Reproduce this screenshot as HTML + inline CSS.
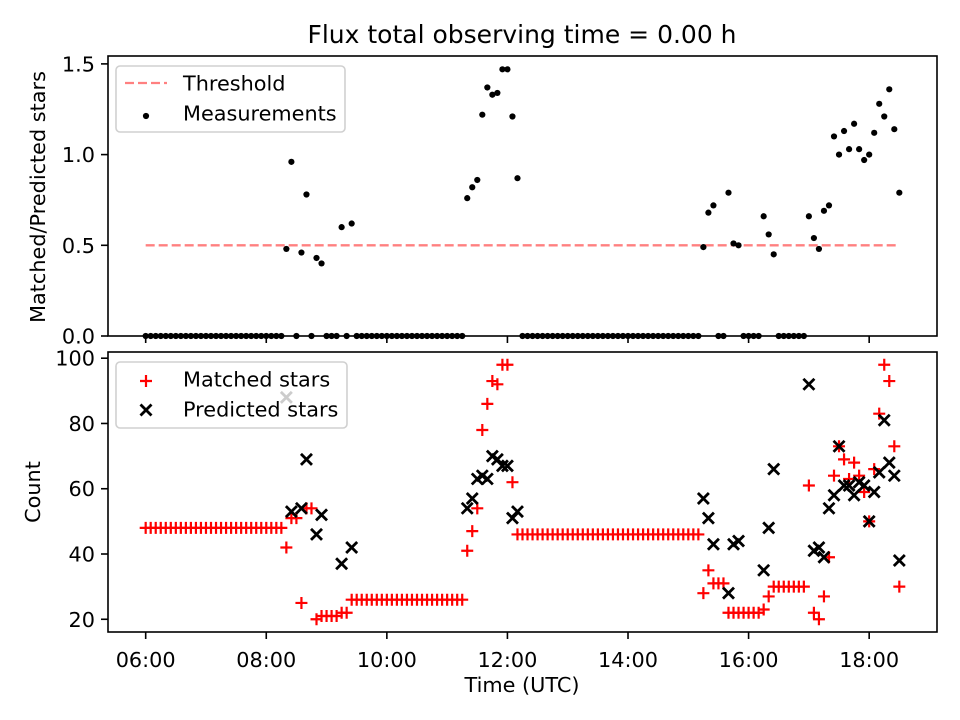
<!DOCTYPE html>
<html>
<head>
<meta charset="utf-8">
<style>
html,body{margin:0;padding:0;background:#fff;}
svg{display:block;font-family:"DejaVu Sans","Liberation Sans",sans-serif;}
</style>
</head>
<body>
<svg id="chart" width="960" height="720" viewBox="0 0 960 720" xmlns="http://www.w3.org/2000/svg">
  <rect x="0" y="0" width="960" height="720" fill="#fff"/>
  <text x="522" y="43" font-size="25" text-anchor="middle" fill="#000">Flux total observing time = 0.00 h</text>
  <g id="topPanel"></g>
  <g id="botPanel"></g>
  <text transform="translate(45,197) rotate(-90)" font-size="20.8" text-anchor="middle" fill="#000">Matched/Predicted stars</text>
  <text transform="translate(40,492) rotate(-90)" font-size="20.8" text-anchor="middle" fill="#000">Count</text>
  <text x="522" y="692" font-size="20.8" text-anchor="middle" fill="#000">Time (UTC)</text>
</svg>
<script>
// minutes after 06:00 UTC
const times = [0,5,10,15,20,25,30,35,40,45,50,55,60,65,70,75,80,85,90,95,100,105,110,115,120,125,130,135,140,145,150,155,160,165,170,175,180,185,190,195,200,205,210,215,220,225,230,235,240,245,250,255,260,265,270,275,280,285,290,295,300,305,310,315,320,325,330,335,340,345,350,355,360,365,370,375,380,385,390,395,400,405,410,415,420,425,430,435,440,445,450,455,460,465,470,475,480,485,490,495,500,505,510,515,520,525,530,535,540,545,550,555,560,565,570,575,580,585,590,595,600,605,610,615,620,625,630,635,640,645,650,655,660,665,670,675,680,685,690,695,700,705,710,715,720,725,730,735,740,745,750];
const matched = [48,48,48,48,48,48,48,48,48,48,48,48,48,48,48,48,48,48,48,48,48,48,48,48,48,48,48,48,
 42,51,51,25,54,54,20,21,21,21,21,22,22,
 26,26,26,26,26,26,26,26,26,26,26,26,26,26,26,26,26,26,26,26,26,26,26,
 41,47,54,78,86,93,92,98,98,62,
 46,46,46,46,46,46,46,46,46,46,46,46,46,46,46,46,46,46,46,46,46,46,46,46,46,46,46,46,46,46,46,46,46,46,46,46,46,
 28,35,31,31,31,
 22,22,22,22,22,22,22,
 23,27,
 30,30,30,30,30,30,30,
 61,22,20,27,39,64,73,69,63,68,64,59,50,66,83,98,93,73,30];
const N = null;
const predicted = [N,N,N,N,N,N,N,N,N,N,N,N,N,N,N,N,N,N,N,N,N,N,N,N,N,N,N,N,
 88,53,N,54,69,N,46,52,N,N,N,37,N,
 42,N,N,N,N,N,N,N,N,N,N,N,N,N,N,N,N,N,N,N,N,N,N,
 54,57,63,64,63,70,69,67,67,51,
 53,N,N,N,N,N,N,N,N,N,N,N,N,N,N,N,N,N,N,N,N,N,N,N,N,N,N,N,N,N,N,N,N,N,N,N,N,
 57,51,43,N,N,
 28,43,44,N,N,N,N,
 35,48,
 66,N,N,N,N,N,N,
 92,41,42,39,54,58,73,61,61,58,62,61,50,59,65,81,68,64,38];
const ratio = [0,0,0,0,0,0,0,0,0,0,0,0,0,0,0,0,0,0,0,0,0,0,0,0,0,0,0,0,
 0.48,0.96,0,0.46,0.78,0,0.43,0.40,0,0,0,0.60,0,
 0.62,0,0,0,0,0,0,0,0,0,0,0,0,0,0,0,0,0,0,0,0,0,0,
 0.76,0.82,0.86,1.22,1.37,1.33,1.34,1.47,1.47,1.21,
 0.87,0,0,0,0,0,0,0,0,0,0,0,0,0,0,0,0,0,0,0,0,0,0,0,0,0,0,0,0,0,0,0,0,0,0,0,0,
 0.49,0.68,0.72,0,0,
 0.79,0.51,0.50,0,0,0,0,
 0.66,0.56,
 0.45,0,0,0,0,0,0,
 0.66,0.54,0.48,0.69,0.72,1.10,1.00,1.13,1.03,1.17,1.03,0.97,1.00,1.12,1.28,1.21,1.36,1.14,0.79];
const thresholdValue = 0.5;
const thresholdSpan = [0, 750];
const xTickVals = [0,120,240,360,480,600,720];
const xTickLabels = ["06:00","08:00","10:00","12:00","14:00","16:00","18:00"];
const topTickVals = [0,0.5,1.0,1.5];
const topTickLabels = ["0.0","0.5","1.0","1.5"];
const botTickVals = [20,40,60,80,100];
const botTickLabels = ["20","40","60","80","100"];

const NS = "http://www.w3.org/2000/svg";
const L = 108, R = 937;
const TT = 56, TB = 336, BT = 352, BB = 632;
const xMin = -37.5, xMax = 787.5;
const topMin = 0, topMax = 1.5435;
const botMin = 16.1, botMax = 101.9;
function xs(t){ return L + (t - xMin) * (R - L) / (xMax - xMin); }
function yTop(v){ return TB - (v - topMin) * (TB - TT) / (topMax - topMin); }
function yBot(v){ return BB - (v - botMin) * (BB - BT) / (botMax - botMin); }
function mk(tag, attrs, parent){
  const e = document.createElementNS(NS, tag);
  for (const k in attrs) e.setAttribute(k, attrs[k]);
  parent.appendChild(e);
  return e;
}
const topG = document.getElementById('topPanel');
const botG = document.getElementById('botPanel');

function drawPlus(g, x, y, s){
  return mk('path', {d:`M${x-s},${y}H${x+s}M${x},${y-s}V${y+s}`, stroke:'#ff0000', 'stroke-width':2.2, fill:'none'}, g);
}
function drawX(g, x, y, s, color){
  return mk('path', {d:`M${x-s},${y-s}L${x+s},${y+s}M${x-s},${y+s}L${x+s},${y-s}`, stroke:color, 'stroke-width':2.8, fill:'none'}, g);
}

// ---- top panel ----
const thr = mk('line', {x1:xs(thresholdSpan[0]), x2:xs(thresholdSpan[1]), y1:yTop(thresholdValue), y2:yTop(thresholdValue), stroke:'#ff8080', 'stroke-width':2.3, 'stroke-dasharray':'9,4'}, topG);


const dotsG = mk('g', {}, topG);


for (let i = 0; i < times.length; i++){
  const c = mk('circle', {cx:xs(times[i]), cy:yTop(ratio[i]), r:3.1, fill:'#000'}, dotsG);
  
  
}

// ---- bottom panel ----
const matchG = mk('g', {}, botG);


for (let i = 0; i < times.length; i++){
  if (matched[i] == null) continue;
  const p = drawPlus(matchG, xs(times[i]), yBot(matched[i]), 6);
  
  
}
const predG = mk('g', {}, botG);


for (let i = 0; i < times.length; i++){
  if (predicted[i] == null) continue;
  const p = drawX(predG, xs(times[i]), yBot(predicted[i]), 5.5, '#000');
  
  
}

// ---- axes ----
function axes(g, top, bottom, yfun, yVals, yLabels, showXLabels, prefix){
  const fr = mk('rect', {x:L, y:top, width:R-L, height:bottom-top, fill:'none', stroke:'#000', 'stroke-width':1.6}, g);
  
  
  for (let i = 0; i < yVals.length; i++){
    const y = yfun(yVals[i]);
    const tk = mk('line', {x1:L-7, x2:L, y1:y, y2:y, stroke:'#000', 'stroke-width':1.6}, g);
    
    
    const tl = mk('text', {x:L-13, y:y+7.5, 'font-size':20.8, 'text-anchor':'end', fill:'#000'}, g);
    tl.textContent = yLabels[i];
    
    
  }
  for (let i = 0; i < xTickVals.length; i++){
    const x = xs(xTickVals[i]);
    const tk = mk('line', {x1:x, x2:x, y1:bottom, y2:bottom+7, stroke:'#000', 'stroke-width':1.6}, g);
    
    
    if (showXLabels){
      const tl = mk('text', {x:x, y:bottom+35, 'font-size':20.8, 'text-anchor':'middle', fill:'#000'}, g);
      tl.textContent = xTickLabels[i];
      
      
    }
  }
}
axes(topG, TT, TB, yTop, topTickVals, topTickLabels, false, 'top');
axes(botG, BT, BB, yBot, botTickVals, botTickLabels, true, 'bottom');

// ---- legends ----
const lg1 = mk('g', {}, topG);


mk('rect', {x:116, y:66, width:229, height:66, rx:4, fill:'rgba(255,255,255,0.8)', stroke:'#d0d0d0', 'stroke-width':1.6}, lg1);
mk('line', {x1:125, x2:167, y1:83, y2:83, stroke:'#ff8080', 'stroke-width':2.3, 'stroke-dasharray':'9,4'}, lg1);
const t1 = mk('text', {x:183, y:90.5, 'font-size':20.8, fill:'#000'}, lg1);
t1.textContent = 'Threshold';


mk('circle', {cx:146, cy:116, r:3.1, fill:'#000'}, lg1);
const t2 = mk('text', {x:183, y:120.5, 'font-size':20.8, fill:'#000'}, lg1);
t2.textContent = 'Measurements';



const lg2 = mk('g', {}, botG);


mk('rect', {x:116, y:362, width:231, height:66, rx:4, fill:'rgba(255,255,255,0.8)', stroke:'#d0d0d0', 'stroke-width':1.6}, lg2);
drawPlus(lg2, 146, 381, 6);
const t3 = mk('text', {x:183, y:386.5, 'font-size':20.8, fill:'#000'}, lg2);
t3.textContent = 'Matched stars';


drawX(lg2, 146, 410, 5.5, '#000');
const t4 = mk('text', {x:183, y:416.5, 'font-size':20.8, fill:'#000'}, lg2);
t4.textContent = 'Predicted stars';


</script>
</body>
</html>
